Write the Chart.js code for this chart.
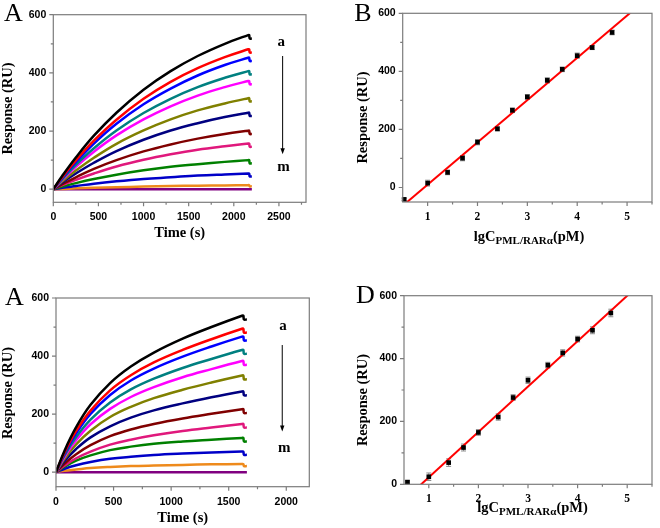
<!DOCTYPE html>
<html><head><meta charset="utf-8">
<script src="https://cdn.jsdelivr.net/npm/chart.js@4/dist/chart.umd.min.js"></script>
<style>
html,body{margin:0;padding:0;background:#fff;}
#wrap{position:relative;width:660px;height:528px;overflow:hidden;background:#fff;}
canvas{position:absolute;}
</style></head><body>
<div id="wrap">
<canvas id="cA" width="330" height="264" style="left:0;top:0"></canvas>
<canvas id="cB" width="330" height="264" style="left:330px;top:0"></canvas>
<canvas id="cC" width="330" height="264" style="left:0;top:264px"></canvas>
<canvas id="cD" width="330" height="264" style="left:330px;top:264px"></canvas>
</div>
<script>
// ---------------- DATA ----------------
const curveLabels = ['a','b','c','d','e','f','g','h','i','j','k','l','m'];
const curveColors = ['#000000','#ff0000','#0000ff','#008080','#ff00ff','#808000','#000080','#800000','#e0187c','#008000','#0000c8','#ee8a1c','#800080'];

// Panel A (top-left) sensorgrams
const timesA = [0,100,250,450,700,1000,1300,1600,1900,2160,2170,2177,2200];
const A_a = [0,46,109,184,263,342,406,458,500,530,530,518,518];
const A_b = [0,42,99,167,239,311,369,416,454,481,481,470,470];
const A_c = [0,39,93,157,225,292,346,391,427,452,452,441,441];
const A_d = [0,35,84,141,202,262,311,351,383,406,406,395,395];
const A_e = [0,32,77,129,185,240,285,322,351,372,372,361,361];
const A_f = [0,27,64,108,156,202,240,271,295,313,313,302,302];
const A_g = [0,23,54,91,131,170,202,227,248,263,263,252,252];
const A_h = [0,17,41,70,100,130,154,174,190,201,201,190,190];
const A_i = [0,14,32,54,78,101,120,136,148,157,157,146,146];
const A_j = [0,9,21,35,50,65,77,86,94,100,100,89,89];
const A_k = [0,5,11,19,27,35,41,47,51,54,54,44,44];
const A_l = [0,1,3,5,7,9,11,12,13,14,14,10,10];
const A_m = [0,0,0,0,0,0,0,0,0,0,0,0,0];
const curvesA = [A_a,A_b,A_c,A_d,A_e,A_f,A_g,A_h,A_i,A_j,A_k,A_l,A_m];

// Panel C (bottom-left) sensorgrams
const timesC = [0,75,175,300,470,650,850,1100,1350,1615,1627,1633,1658];
const C_a = [0,75,155,232,307,364,412,460,500,539,539,526,526];
const C_b = [0,69,142,212,282,334,378,421,458,494,494,481,481];
const C_c = [0,65,134,201,266,316,357,398,433,467,467,454,454];
const C_d = [0,59,121,181,240,285,322,359,390,421,421,408,408];
const C_e = [0,53,110,165,218,259,293,327,355,383,383,370,370];
const C_f = [0,46,96,143,190,225,255,284,309,333,333,320,320];
const C_g = [0,39,80,120,158,188,213,237,258,278,278,265,265];
const C_h = [0,30,62,93,124,147,166,185,201,217,217,204,204];
const C_i = [0,23,48,71,95,112,127,142,154,166,166,154,154];
const C_j = [0,19,40,58,76,88,98,106,112,118,118,106,106];
const C_k = [0,12,24,35,46,53,59,64,68,71,71,60,60];
const C_l = [0,5,9,14,18,21,23,25,27,28,28,21,21];
const C_m = [0,0,0,0,0,0,0,0,0,0,0,0,0];
const curvesC = [C_a,C_b,C_c,C_d,C_e,C_f,C_g,C_h,C_i,C_j,C_k,C_l,C_m];

// Panel B (top-right) calibration
const xB = [0.53,1,1.4,1.7,2,2.4,2.7,3,3.4,3.7,4,4.3,4.7];
const yB = [-41,15,52,101,156,202,266,312,369,407,454,482,534];
const eB = [4,10,8,9,9,7,8,8,9,8,9,7,8];
const fitBx = [0.5,5.5];
const fitBy = [-63,665];

// Panel D (bottom-right) calibration
const xD = [0.57,1,1.4,1.7,2,2.4,2.7,3,3.4,3.7,4,4.3,4.67];
const yD = [7,24,69,117,165,214,276,331,379,418,462,490,545];
const eD = [4,12,12,11,9,10,9,10,9,10,9,11,12];
const fitDx = [0.5,5.5];
const fitDy = [-50,672];

// Tick values
const ticksTimeA = [0,250,500,750,1000,1250,1500,1750,2000,2250,2500,2750];
const majorTimeA = [0,500,1000,1500,2000,2500];
const ticksTimeC = [0,250,500,750,1000,1250,1500,1750,2000];
const majorTimeC = [0,500,1000,1500,2000];
const ticksResp = [0,100,200,300,400,500,600];
const majorResp = [0,200,400,600];
const ticksLg = [1,1.5,2,2.5,3,3.5,4,4.5,5,5.5];
const majorLg = [1,2,3,4,5];

// ---------------- STYLE ----------------
const AXIS_COLOR = '#7c7c7c';
const SERIF = '"Liberation Serif","Times New Roman",serif';
const SANS = '"Liberation Sans",Arial,sans-serif';

function arrow(ctx, x, y1, y2) {
  ctx.save();
  ctx.strokeStyle = '#000'; ctx.fillStyle = '#000'; ctx.lineWidth = 1;
  ctx.beginPath(); ctx.moveTo(x, y1); ctx.lineTo(x, y2 - 5); ctx.stroke();
  ctx.beginPath(); ctx.moveTo(x - 2.2, y2 - 6); ctx.lineTo(x + 2.2, y2 - 6); ctx.lineTo(x, y2); ctx.closePath(); ctx.fill();
  ctx.restore();
}

const decorPlugin = {
  id: 'decor',
  beforeDatasetsDraw(chart, args, o) {
    if (!o.errX) return;
    const ctx = chart.ctx, xs = chart.scales.x, ys = chart.scales.y;
    ctx.save(); ctx.strokeStyle = '#8a8a8a'; ctx.lineWidth = 1;
    ctx.beginPath();
    o.errX.forEach((xv, i) => {
      const px = xs.getPixelForValue(xv);
      const y1 = ys.getPixelForValue(o.errY[i] + o.errE[i]);
      const y2 = ys.getPixelForValue(o.errY[i] - o.errE[i]);
      ctx.moveTo(px, y1); ctx.lineTo(px, y2);
      ctx.moveTo(px - 2.5, y1); ctx.lineTo(px + 2.5, y1);
      ctx.moveTo(px - 2.5, y2); ctx.lineTo(px + 2.5, y2);
    });
    ctx.stroke(); ctx.restore();
  },
  afterDraw(chart, args, o) {
    const ctx = chart.ctx, ca = chart.chartArea, xs = chart.scales.x, ys = chart.scales.y;
    ctx.save();
    ctx.strokeStyle = AXIS_COLOR; ctx.lineWidth = 1.2;
    ctx.strokeRect(ca.left, ca.top, ca.right - ca.left, ca.bottom - ca.top);
    ctx.beginPath();
    xs.ticks.forEach(t => {
      const px = xs.getPixelForValue(t.value);
      if (px < ca.left - 0.5 || px > ca.right + 0.5) return;
      const len = o.xMajor.includes(t.value) ? 4 : 2.5;
      ctx.moveTo(px, ca.bottom); ctx.lineTo(px, ca.bottom + len);
    });
    ys.ticks.forEach(t => {
      const py = ys.getPixelForValue(t.value);
      const len = o.yMajor.includes(t.value) ? 4 : 2.5;
      ctx.moveTo(ca.left, py); ctx.lineTo(ca.left - len, py);
    });
    ctx.stroke();
    ctx.fillStyle = '#000';
    ctx.font = '26px ' + SERIF; ctx.textAlign = 'center'; ctx.textBaseline = 'alphabetic';
    ctx.fillText(o.letter, o.letterPos[0], o.letterPos[1]);
    ctx.save();
    ctx.translate(o.yTitlePos[0], o.yTitlePos[1]); ctx.rotate(-Math.PI / 2);
    ctx.font = 'bold 14.5px ' + SERIF; ctx.textBaseline = 'middle';
    ctx.fillText('Response (RU)', 0, 0);
    ctx.restore();
    ctx.textBaseline = 'middle';
    if (o.xTitleParts) {
      let total = 0;
      o.xTitleParts.forEach(p => { ctx.font = p.f; p.w = ctx.measureText(p.t).width; total += p.w; });
      let x = o.xTitlePos[0] - total / 2;
      ctx.textAlign = 'left';
      o.xTitleParts.forEach(p => { ctx.font = p.f; ctx.fillText(p.t, x, o.xTitlePos[1] + p.dy); x += p.w; });
    } else {
      ctx.font = 'bold 14.5px ' + SERIF; ctx.textAlign = 'center';
      ctx.fillText(o.xTitle, o.xTitlePos[0], o.xTitlePos[1]);
    }
    if (o.ann) {
      const a = o.ann;
      ctx.font = 'bold 15px ' + SERIF; ctx.textAlign = 'center'; ctx.textBaseline = 'middle';
      ctx.fillText('a', xs.getPixelForValue(a.aPos[0]), ys.getPixelForValue(a.aPos[1]));
      ctx.fillText('m', xs.getPixelForValue(a.mPos[0]), ys.getPixelForValue(a.mPos[1]));
      arrow(ctx, xs.getPixelForValue(a.arrowX), ys.getPixelForValue(a.arrowY[0]), ys.getPixelForValue(a.arrowY[1]));
    }
    ctx.restore();
  }
};

function axisCfg(min, max, tickVals, majors, font, pad, fitKey, fitVal) {
  return {
    type: 'linear', min: min, max: max,
    afterBuildTicks: s => { s.ticks = tickVals.map(v => ({ value: v })); },
    afterFit: s => { s[fitKey] = fitVal; },
    grid: { display: false, drawTicks: false },
    border: { display: false },
    ticks: {
      autoSkip: false, maxRotation: 0, padding: pad, color: '#000', font: font,
      callback: v => majors.includes(v) ? String(v) : ''
    }
  };
}

const sansTick = { family: SANS, size: 10.5, weight: 'bold' };
const serifTick = { family: SERIF, size: 11.5, weight: 'bold' };

function curveChart(id, times, curves, xMax, yMin, xTicks, xMajors, layout, decor) {
  const datasets = curves.map((vals, i) => ({
    label: curveLabels[i],
    data: times.map((t, j) => ({ x: t, y: vals[j] })),
    borderColor: curveColors[i], backgroundColor: curveColors[i],
    borderWidth: 2.5, pointRadius: 0, fill: false,
    tension: 0.4
  }));
  return new Chart(document.getElementById(id), {
    type: 'line',
    data: { datasets },
    options: {
      responsive: false, animation: false, devicePixelRatio: 1,
      layout: { padding: layout.pad },
      plugins: { legend: { display: false }, tooltip: { enabled: false }, decor: decor },
      scales: {
        x: axisCfg(0, xMax, xTicks, xMajors, sansTick, 9, 'height', layout.xH),
        y: axisCfg(yMin, 600, ticksResp, majorResp, sansTick, 7, 'width', layout.yW)
      }
    },
    plugins: [decorPlugin]
  });
}

function calibChart(id, xs, ys, es, fx, fy, yMin, layout, decor) {
  decor.errX = xs; decor.errY = ys; decor.errE = es;
  return new Chart(document.getElementById(id), {
    type: 'scatter',
    data: {
      datasets: [
        { data: xs.map((x, i) => ({ x: x, y: ys[i] })), pointStyle: 'rect', pointRadius: 3.3,
          backgroundColor: '#000', borderColor: '#000', borderWidth: 0, clip: false },
        { data: fx.map((x, i) => ({ x: x, y: fy[i] })), showLine: true, pointRadius: 0,
          borderColor: '#ff0000', borderWidth: 2, fill: false }
      ]
    },
    options: {
      responsive: false, animation: false, devicePixelRatio: 1,
      layout: { padding: layout.pad },
      plugins: { legend: { display: false }, tooltip: { enabled: false }, decor: decor },
      scales: {
        x: axisCfg(0.5, 5.5, ticksLg, majorLg, serifTick, layout.xPad, 'height', layout.xH),
        y: axisCfg(yMin, 600, ticksResp, majorResp, sansTick, 7, 'width', layout.yW)
      }
    },
    plugins: [decorPlugin]
  });
}

const lgTitle = [
  { t: 'lgC', f: 'bold 14.5px ' + SERIF, dy: 0 },
  { t: 'PML/RARα', f: 'bold 11px ' + SERIF, dy: 4 },
  { t: '(pM)', f: 'bold 14.5px ' + SERIF, dy: 0 }
];

curveChart('cA', timesA, curvesA, 2800, -45, ticksTimeA, majorTimeA,
  { pad: { top: 14.7, right: 24, left: 0, bottom: 0 }, yW: 53.3, xH: 61.7 },
  { letter: 'A', letterPos: [13.5, 21], yTitlePos: [8, 108.5], xTitle: 'Time (s)', xTitlePos: [179.7, 233],
    xMajor: majorTimeA, yMajor: majorResp,
    ann: { aPos: [2527, 504], mPos: [2550, 77], arrowX: 2541, arrowY: [458, 120] } });

curveChart('cC', timesC, curvesC, 2200, -50, ticksTimeC, majorTimeC,
  { pad: { top: 34, right: 20.7, left: 0, bottom: 0 }, yW: 56, xH: 41.3 },
  { letter: 'A', letterPos: [14.5, 41], yTitlePos: [8, 129], xTitle: 'Time (s)', xTitlePos: [182.7, 254],
    xMajor: majorTimeC, yMajor: majorResp,
    ann: { aPos: [1971, 503], mPos: [1983, 83], arrowX: 1965, arrowY: [438, 140] } });

calibChart('cB', xB, yB, eB, fitBx, fitBy, -50,
  { pad: { top: 12.7, right: 5, left: 0, bottom: 0 }, yW: 72.7, xH: 62, xPad: 8 },
  { letter: 'B', letterPos: [33, 21], yTitlePos: [33, 117.5], xTitleParts: lgTitle, xTitlePos: [199, 237],
    xMajor: majorLg, yMajor: majorResp });

calibChart('cD', xD, yD, eD, fitDx, fitDy, 0,
  { pad: { top: 31.7, right: 1.7, left: 0, bottom: 0 }, yW: 74, xH: 43.7, xPad: 8 },
  { letter: 'D', letterPos: [35.5, 39], yTitlePos: [33, 136], xTitleParts: lgTitle, xTitlePos: [202.5, 244],
    xMajor: majorLg, yMajor: majorResp });
</script>
</body></html>
